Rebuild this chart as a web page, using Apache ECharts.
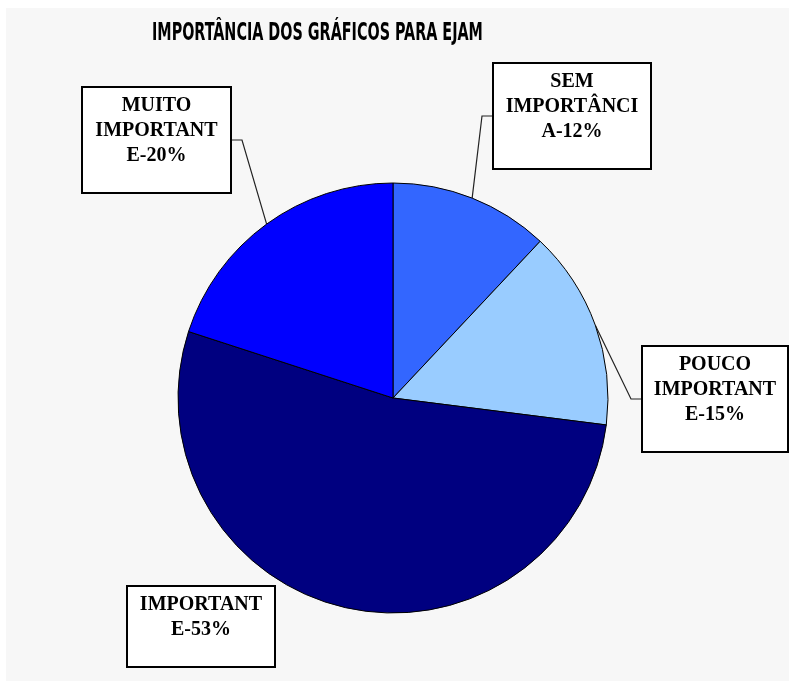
<!DOCTYPE html>
<html>
<head>
<meta charset="utf-8">
<script src="https://cdn.jsdelivr.net/npm/echarts@6/dist/echarts.min.js"></script>
<style>html,body{margin:0;padding:0;background:#fff;}#c{width:791px;height:682px;}</style>
</head>
<body>
<div id="c"></div>
<script>
const titleText = 'IMPORTÂNCIA DOS GRÁFICOS PARA EJAM';
const categories = ['SEM IMPORTÂNCIA', 'POUCO IMPORTANTE', 'IMPORTANTE', 'MUITO IMPORTANTE'];
const values = [12, 15, 53, 20];
const labelTexts = ['SEM\nIMPORTÂNCI\nA-12%', 'POUCO\nIMPORTANT\nE-15%', 'IMPORTANT\nE-53%', 'MUITO\nIMPORTANT\nE-20%'];
const colors = ['#3366ff', '#99ccff', '#000080', '#0000ff'];
// label box layout: left, top, outer width (layout only)
const labelBoxes = [[493, 64, 158], [642, 347, 146], [127, 587, 148], [82, 88, 149]];

const chart = echarts.init(document.getElementById('c'));
chart.setOption({
  backgroundColor: '#ffffff',
  animation: false,
  graphic: [{
    type: 'rect', z: -10, silent: true,
    shape: {x: 6, y: 8, width: 783, height: 673},
    style: {fill: '#f7f7f7'}
  }, {
    type: 'text', x: 152, y: 22, scaleX: 0.665, silent: true,
    style: {text: titleText, font: 'bold 24px "DejaVu Sans Condensed"', fill: '#000'}
  }],
  series: [{
    type: 'pie',
    center: [393, 398],
    radius: 215,
    startAngle: 90,
    clockwise: true,
    data: categories.map((c, i) => ({
      name: c, value: values[i], itemStyle: {color: colors[i]},
      labelLine: {show: i !== 2}
    })),
    itemStyle: {borderColor: '#000', borderWidth: 1},
    label: {
      show: true,
      formatter: p => labelTexts[p.dataIndex],
      fontFamily: '"Liberation Serif"', fontWeight: 'bold', fontSize: 20, color: '#000',
      lineHeight: 25,
      align: 'center',
      backgroundColor: '#fff', borderColor: '#000', borderWidth: 2,
      padding: [5, 5, 24, 5]
    },
    labelLine: {show: true, lineStyle: {color: '#222', width: 1.2}, length: 10, length2: 10},
    labelLayout: function (params) {
      const b = labelBoxes[params.dataIndex];
      return {x: b[0] + b[2] / 2, y: b[1], align: 'center', verticalAlign: 'top', width: b[2] - 12};
    },
    emphasis: {disabled: true}
  }]
});
</script>
</body>
</html>
